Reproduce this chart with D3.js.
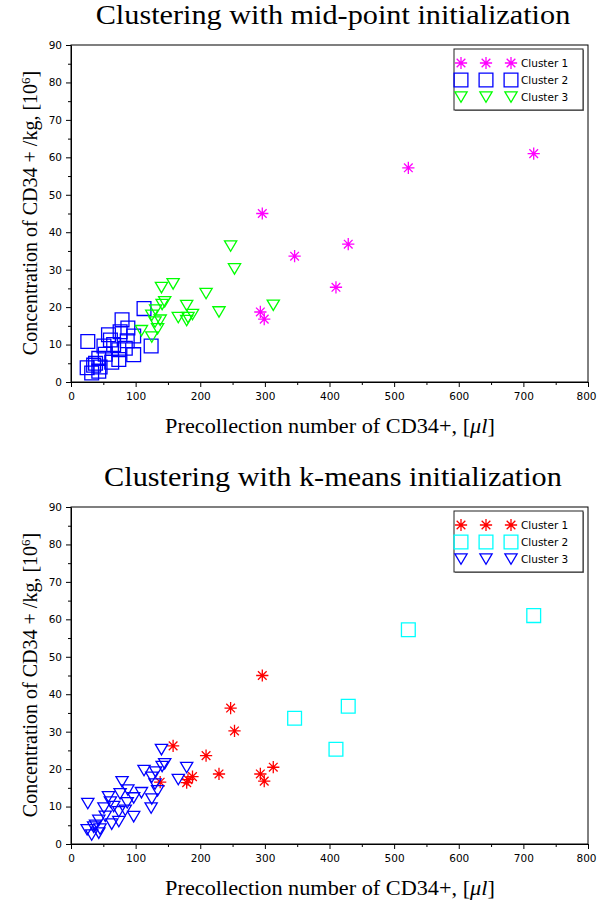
<!DOCTYPE html>
<html>
<head>
<meta charset="utf-8">
<script src="https://cdn.jsdelivr.net/npm/d3@7"></script>
<style>
  body { margin: 0; background: #fff; }
  svg { display: block; }
  .tick text { font-family: "DejaVu Sans", sans-serif; font-size: 10.5px; }
</style>
</head>
<body>
<svg id="chart" width="597" height="905"></svg>
<script>
// precollection number of CD34+ per ul
var precollection = [
  716, 522, 296, 429, 346, 410, 293, 299,
  247, 253, 158, 209, 229, 313, 188, 181, 179, 138,
  140, 145, 141, 179, 131, 125, 166, 134, 109, 125, 130,
  113, 79, 88, 124, 97, 84, 97, 87, 61, 66, 58, 76, 51, 53, 63, 74, 74, 43, 38, 26, 25, 32, 43, 35, 45
];
// concentration of CD34+ per kg, 10^6
var concentration = [
  61.0, 57.2, 45.0, 36.8, 33.6, 25.3, 18.7, 16.8,
  36.3, 30.2, 26.2, 23.6, 18.7, 20.5, 18.0, 17.2, 16.4, 16.5,
  25.2, 21.4, 20.7, 20.4, 19.2, 17.8, 17.2, 14.2, 13.7, 12.0, 16.0,
  19.6, 16.6, 14.4, 9.6, 12.3, 9.0, 7.3, 11.0, 11.2, 10.0, 12.6, 13.4, 9.6, 7.4, 5.3, 8.6, 6.0, 6.3, 5.0, 10.8, 3.8, 2.4, 2.9, 4.5, 4.0
];
// cluster labels for both runs
var midpointCluster = [
  1, 1, 1, 1, 1, 1, 1, 1,
  3, 3, 3, 3, 3, 3, 3, 3, 3, 3,
  3, 3, 3, 3, 3, 3, 3, 3, 3, 3, 3,
  2, 2, 2, 2, 2, 2, 2, 2, 2, 2, 2, 2, 2, 2, 2, 2, 2, 2, 2, 2, 2, 2, 2, 2, 2
];
var kmeansCluster = [
  2, 2, 1, 2, 2, 2, 1, 1,
  1, 1, 1, 1, 1, 1, 1, 1, 1, 1,
  3, 3, 3, 3, 3, 3, 3, 3, 3, 3, 3,
  3, 3, 3, 3, 3, 3, 3, 3, 3, 3, 3, 3, 3, 3, 3, 3, 3, 3, 3, 3, 3, 3, 3, 3, 3
];
var clusterNames = [ 'Cluster 1', 'Cluster 2', 'Cluster 3' ];
var xTicks = [ 0, 100, 200, 300, 400, 500, 600, 700, 800 ];
var yTicks = [ 0, 10, 20, 30, 40, 50, 60, 70, 80, 90 ];

// custom marker shapes
var star8 = {
    draw: function( ctx, size ) {
        var r = Math.sqrt( size ) / 2;
        for ( var i = 0; i < 4; i++ ) {
            var a = i * Math.PI / 4;
            ctx.moveTo( -r * Math.cos( a ), -r * Math.sin( a ) );
            ctx.lineTo( r * Math.cos( a ), r * Math.sin( a ) );
        }
    }
};
var squareOpen = {
    draw: function( ctx, size ) {
        var h = Math.sqrt( size ) / 2;
        ctx.rect( -h, -h, 2 * h, 2 * h );
    }
};
var triangleDown = {
    draw: function( ctx, size ) {
        var w = Math.sqrt( size ) / 2;
        var h = w * 0.85;
        ctx.moveTo( -w, -h );
        ctx.lineTo( w, -h );
        ctx.lineTo( 0, h );
        ctx.closePath();
    }
};

var svg = d3.select( '#chart' );

// widen serif text a bit, the original font runs wider than Liberation Serif
function stretch( sel, factor ) {
    var len = sel.node().getComputedTextLength();
    sel.attr( 'textLength', len * factor ).attr( 'lengthAdjust', 'spacingAndGlyphs' );
}

function drawPanel( top, title, labels, styles ) {
    var x = d3.scaleLinear().domain( [ 0, 800 ] ).range( [ 71, 588 ] );
    var y = d3.scaleLinear().domain( [ 0, 90 ] ).range( [ top + 337, top ] );
    var g = svg.append( 'g' );

    var t = g.append( 'text' )
        .attr( 'x', 333 ).attr( 'y', top - 21 )
        .attr( 'text-anchor', 'middle' )
        .style( 'font-family', '"Liberation Serif", serif' )
        .style( 'font-size', '27px' )
        .text( title );
    stretch( t, 1.12 );

    // minor ticks
    g.append( 'g' ).attr( 'transform', 'translate(0,' + y( 0 ) + ')' )
        .call( d3.axisBottom( x ).tickValues( d3.range( 50, 800, 100 ) ).tickSize( 3 ).tickFormat( '' ) )
        .call( function( a ) { a.select( '.domain' ).remove(); } );
    g.append( 'g' ).attr( 'transform', 'translate(' + x( 0 ) + ',0)' )
        .call( d3.axisLeft( y ).tickValues( d3.range( 5, 90, 10 ) ).tickSize( 3 ).tickFormat( '' ) )
        .call( function( a ) { a.select( '.domain' ).remove(); } );

    // major axes
    g.append( 'g' ).attr( 'transform', 'translate(0,' + y( 0 ) + ')' )
        .call( d3.axisBottom( x ).tickValues( xTicks ).tickSize( 5 ).tickSizeOuter( 0 ).tickPadding( 6 ) )
        .call( function( a ) {
            // last label sits on the page edge
            a.selectAll( '.tick text' ).filter( function( d ) { return d == 800; } ).attr( 'dx', -2 );
        });
    g.append( 'g' ).attr( 'transform', 'translate(' + x( 0 ) + ',0)' )
        .call( d3.axisLeft( y ).tickValues( yTicks ).tickSize( 5 ).tickSizeOuter( 0 ).tickPadding( 4 ) );

    g.append( 'rect' )
        .attr( 'x', x( 0 ) ).attr( 'y', y( 90 ) )
        .attr( 'width', x( 800 ) - x( 0 ) ).attr( 'height', y( 0 ) - y( 90 ) )
        .attr( 'fill', 'none' ).attr( 'stroke', '#000' );

    // points, cluster 1 first so cluster 3 ends on top
    [ 1, 2, 3 ].forEach( function( c ) {
        var st = styles[ c - 1 ];
        var sym = d3.symbol().type( st.shape ).size( st.size );
        g.append( 'g' ).selectAll( 'path' )
            .data( d3.range( precollection.length ).filter( function( i ) { return labels[ i ] == c; } ) )
            .join( 'path' )
            .attr( 'd', sym )
            .attr( 'transform', function( i ) { return 'translate(' + x( precollection[ i ] ) + ',' + y( concentration[ i ] ) + ')'; } )
            .attr( 'fill', 'none' )
            .attr( 'stroke', st.color )
            .attr( 'stroke-width', 1.3 );
    });

    // axis labels
    var xl = g.append( 'text' )
        .attr( 'x', 330 ).attr( 'y', y( 0 ) + 51 )
        .attr( 'text-anchor', 'middle' )
        .style( 'font-family', '"Liberation Serif", serif' )
        .style( 'font-size', '21px' )
        .html( 'Precollection number of CD34+, [<tspan font-style="italic">μl</tspan>]' );
    stretch( xl, 1.06 );
    g.append( 'text' )
        .attr( 'transform', 'translate(37,' + ( top + 168 ) + ') rotate(-90)' )
        .attr( 'text-anchor', 'middle' )
        .style( 'font-family', '"Liberation Serif", serif' )
        .style( 'font-size', '20px' )
        .html( 'Concentration of CD34 + /kg, [10<tspan dy="-7" font-size="13px">6</tspan><tspan dy="7">]</tspan>' );

    // legend
    var lg = g.append( 'g' ).attr( 'transform', 'translate(454,' + ( top + 4 ) + ')' );
    lg.append( 'rect' ).attr( 'x', 1 ).attr( 'y', 1 ).attr( 'width', 129 ).attr( 'height', 61 )
        .attr( 'fill', '#888' );
    lg.append( 'rect' ).attr( 'width', 129 ).attr( 'height', 61 )
        .attr( 'fill', '#fff' ).attr( 'stroke', '#222' );
    styles.forEach( function( st, k ) {
        var sym = d3.symbol().type( st.shape ).size( st.size );
        var ly = 14 + k * 17;
        [ 7, 32, 57 ].forEach( function( lx ) {
            lg.append( 'path' ).attr( 'd', sym )
                .attr( 'transform', 'translate(' + lx + ',' + ly + ')' )
                .attr( 'fill', 'none' ).attr( 'stroke', st.color ).attr( 'stroke-width', 1.3 );
        });
        lg.append( 'text' )
            .attr( 'x', 67 ).attr( 'y', ly + 4 )
            .style( 'font-family', '"DejaVu Sans", sans-serif' )
            .style( 'font-size', '10.5px' )
            .text( clusterNames[ k ] );
    });
}

drawPanel( 45, 'Clustering with mid-point initialization', midpointCluster, [
    { shape: star8, size: 150, color: '#ff00ff' },
    { shape: squareOpen, size: 190, color: '#0000ff' },
    { shape: triangleDown, size: 150, color: '#00ff00' }
]);
drawPanel( 507, 'Clustering with k-means initialization', kmeansCluster, [
    { shape: star8, size: 150, color: '#ff0000' },
    { shape: squareOpen, size: 190, color: '#00ffff' },
    { shape: triangleDown, size: 150, color: '#0000ff' }
]);
</script>
</body>
</html>
